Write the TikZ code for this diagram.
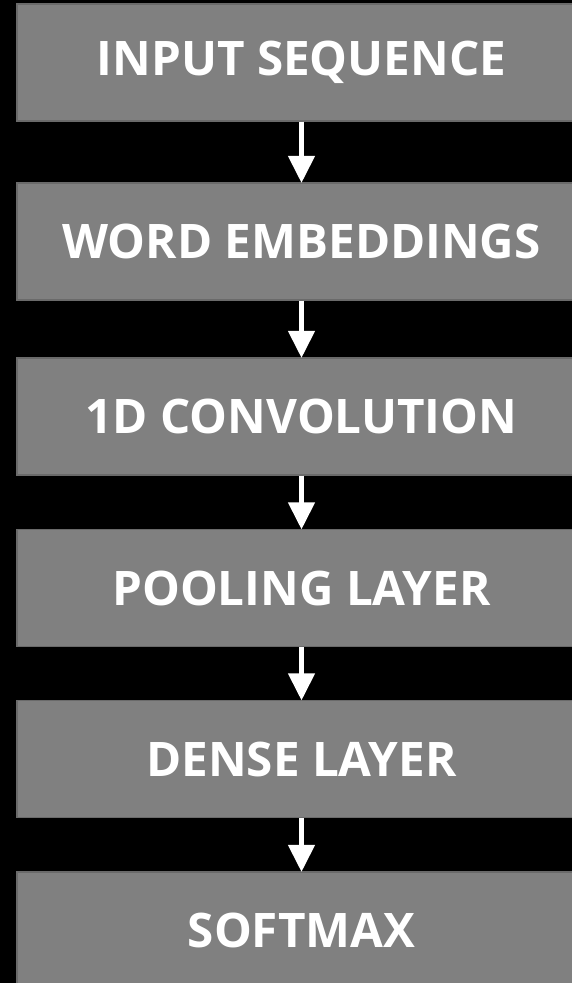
\documentclass[tikz,border=0pt]{standalone}
\usepackage{fontspec}
\setmainfont{Open Sans}[BoldFont={* Bold}]
\usetikzlibrary{arrows.meta}
\definecolor{layerfill}{HTML}{808080}
\definecolor{layeredge}{HTML}{6A6A6A}
\begin{document}
\begin{tikzpicture}[x=1pt,y=-1pt,
  layer/.style={draw=layeredge, line width=1.2pt, fill=layerfill,
    minimum width=569pt, minimum height=117pt, inner sep=0pt,
    text=white, font=\fontsize{47.6}{50}\selectfont\bfseries},
  flow/.style={draw=white, line width=4.5pt,
    -{Triangle[width=26pt,length=27pt]}, shorten >=-0.5pt}]
  \fill[black] (0,0) rectangle (572,983);
  \clip (0,0) rectangle (572,983);
  \useasboundingbox (0,0) rectangle (572,983);
  \node[layer] (input) at (301.5,62.5)  {INPUT SEQUENCE};
  \node[layer] (embed) at (301.5,241.5) {WORD EMBEDDINGS};
  \node[layer] (conv)  at (301.5,416.5) {1D CONVOLUTION};
  \node[layer] (pool)  at (301.5,588)   {POOLING LAYER};
  \node[layer] (dense) at (301.5,759)   {DENSE LAYER};
  \node[layer] (soft)  at (301.5,930.5) {SOFTMAX};
  \draw[flow] (input) -- (embed);
  \draw[flow] (embed) -- (conv);
  \draw[flow] (conv)  -- (pool);
  \draw[flow] (pool)  -- (dense);
  \draw[flow] (dense) -- (soft);
\end{tikzpicture}
\end{document}
